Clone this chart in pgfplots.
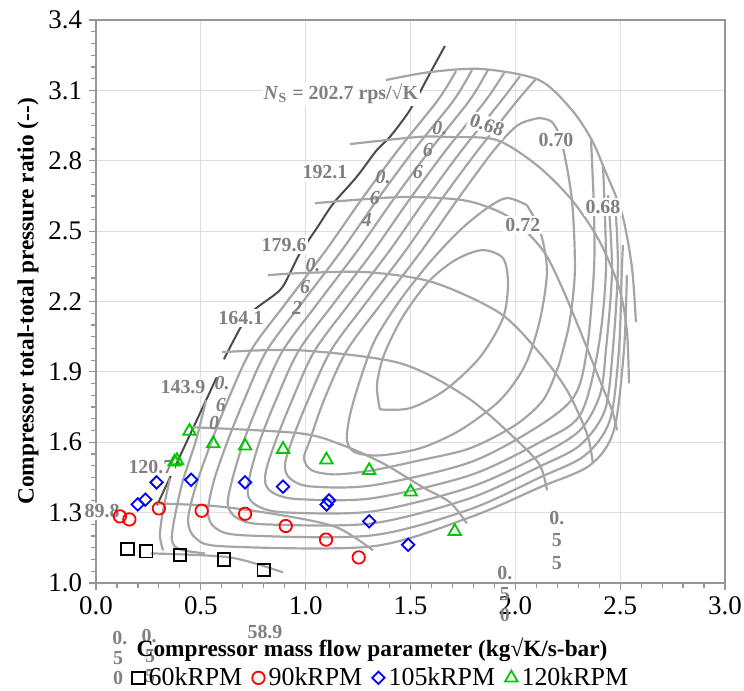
\documentclass[border=0pt]{standalone}
\usepackage{fontspec}
\setmainfont{Liberation Serif}
\usepackage{pgfplots}
\pgfplotsset{compat=1.18}

\definecolor{mapgray}{RGB}{165,165,165}
\definecolor{surgegray}{RGB}{75,75,75}
\definecolor{lblgray}{RGB}{128,128,128}
\definecolor{mkgreen}{RGB}{0,200,0}
\definecolor{gridgray}{RGB}{222,222,222}
\definecolor{framegray}{RGB}{150,150,150}

\pgfplotsset{
  mapline/.style={mapgray, line width=1.1pt, smooth, tension=0.5, no marks, forget plot},
  /pgf/number format/assume math mode=true,
}
\tikzset{
  spd/.style={font=\fontsize{10}{12}\selectfont\bfseries, text=lblgray, fill=white, inner sep=1pt},
  eff/.style={font=\fontsize{10}{12}\selectfont\bfseries\itshape, text=lblgray, inner sep=0pt},
  effu/.style={font=\fontsize{10}{12}\selectfont\bfseries, text=lblgray, inner sep=0pt},
}

\begin{document}
\begin{tikzpicture}
\begin{axis}[
  scale only axis, width=314.5bp, height=281.5bp,
  xmin=0, xmax=3, ymin=1, ymax=3.4,
  xtick={0,0.5,1,1.5,2,2.5,3},
  ytick={1.0,1.3,1.6,1.9,2.2,2.5,2.8,3.1,3.4},
  minor x tick num=4, minor y tick num=5,
  xtick pos=bottom, ytick pos=left,
  tick align=outside, major tick length=3.5bp, minor tick length=2.5bp,
  grid=major, major grid style={gridgray, line width=0.5pt},
  axis line style={framegray, line width=0.9pt},
  tick style={framegray, line width=0.6pt},
  ticklabel style={font=\fontsize{13.5}{15}\selectfont,
    /pgf/number format/fixed, /pgf/number format/fixed zerofill,
    /pgf/number format/precision=1},
  xlabel={\bfseries Compressor mass flow parameter (kg√K/s-bar)},
  ylabel={\bfseries Compressor total-total pressure ratio (-{}-)},
  label style={font=\fontsize{11.7}{14}\selectfont},
  xlabel style={at={(axis description cs:0.439,-0.119)}, anchor=center},
  ylabel style={at={(axis description cs:-0.108,0.5)}, anchor=center},
  clip=false,
  legend style={at={(axis description cs:0.455,-0.135)}, anchor=north,
    draw=none, fill=none, font=\fontsize{13}{15}\selectfont,
    /tikz/every even column/.append style={column sep=3bp}},
  legend columns=4,
  legend image code/.code={\draw[#1] plot coordinates {(0.12cm,0cm)};},
]

% surge line
\addplot[surgegray, line width=1.0pt, smooth, forget plot] coordinates {
  (0.291,1.331) (0.576,1.877)};
\addplot[surgegray, line width=1.0pt, smooth, tension=0.5, forget plot] coordinates {
  (0.610,1.954) (0.701,2.107) (0.758,2.167) (0.877,2.248) (0.925,2.321)
  (0.973,2.406) (1.052,2.511) (1.132,2.618) (1.243,2.731) (1.339,2.845)
  (1.402,2.902) (1.497,3.016) (1.593,3.173) (1.664,3.289)};

% speed lines
\addplot[mapline] coordinates {(0.262,1.126) (0.639,1.109) (0.892,1.045)};
\addplot[mapline] coordinates {(0.291,1.339) (0.577,1.327) (0.892,1.288) (1.149,1.237) (1.321,1.139)};
\addplot[mapline] coordinates {(0.463,1.664) (0.973,1.638) (1.178,1.587) (1.369,1.510) (1.559,1.408) (1.688,1.344) (1.769,1.254)};
\addplot[mapline] coordinates {(0.601,1.984) (0.973,1.992) (1.450,1.937) (1.769,1.792) (2.008,1.608) (2.117,1.502) (2.151,1.395)};
\addplot[mapline] coordinates {(0.820,2.312) (0.973,2.321) (1.292,2.325) (1.607,2.282) (1.927,2.150) (2.117,1.979) (2.246,1.822) (2.341,1.638) (2.370,1.510)};
\addplot[mapline] coordinates {(1.044,2.619) (1.450,2.645) (1.750,2.632) (1.927,2.581) (2.031,2.517) (2.141,2.406) (2.222,2.261) (2.308,2.077) (2.403,1.864) (2.461,1.736) (2.485,1.651)};
\addplot[mapline] coordinates {(1.211,2.871) (1.531,2.901) (1.688,2.901) (1.912,2.888) (2.108,2.777) (2.270,2.632) (2.399,2.461) (2.494,2.261) (2.532,2.077) (2.542,1.851)};
\addplot[mapline] coordinates {(1.383,3.144) (1.593,3.178) (1.841,3.191) (2.113,3.144) (2.270,3.016) (2.365,2.888) (2.427,2.760) (2.508,2.577) (2.556,2.346) (2.575,2.112)};

% efficiency contours
\addplot[mapline] coordinates {(1.354,1.740) (1.497,1.745) (1.664,1.822) (1.831,1.962) (1.941,2.129) (1.965,2.278) (1.941,2.385) (1.841,2.419) (1.712,2.376) (1.583,2.282) (1.459,2.129) (1.373,1.971) (1.340,1.843) (1.354,1.740)};
\addplot[mapline] coordinates {(2.055,2.611) (1.960,2.641) (1.865,2.598) (1.736,2.504) (1.593,2.368) (1.450,2.205) (1.330,2.035) (1.259,1.864) (1.211,1.715) (1.197,1.608) (1.235,1.557) (1.354,1.544) (1.545,1.574) (1.736,1.651) (1.927,1.779) (2.046,1.928) (2.117,2.120) (2.151,2.333) (2.117,2.504) (2.055,2.611)};
\addplot[mapline] coordinates {(2.113,2.982) (2.012,2.952) (1.898,2.845) (1.722,2.632) (1.555,2.419) (1.373,2.205) (1.197,1.992) (1.087,1.779) (1.020,1.608) (0.992,1.531) (1.030,1.480) (1.140,1.463) (1.316,1.480) (1.545,1.523) (1.783,1.574) (1.998,1.672) (2.132,1.779) (2.198,1.907) (2.227,1.992) (2.260,2.120) (2.284,2.333) (2.270,2.632) (2.222,2.875) (2.175,2.965) (2.113,2.982)};
\addplot[mapline] coordinates {(2.098,3.148) (2.012,3.059) (1.822,2.845) (1.645,2.632) (1.478,2.419) (1.297,2.205) (1.121,1.992) (1.011,1.779) (0.935,1.608) (0.901,1.502) (0.925,1.446) (1.020,1.412) (1.316,1.416) (1.783,1.514) (2.117,1.672) (2.284,1.800) (2.341,1.992) (2.375,2.333) (2.375,2.589) (2.361,2.888)};
\addplot[mapline] coordinates {(2.022,3.161) (1.936,3.059) (1.745,2.845) (1.569,2.632) (1.402,2.419) (1.221,2.205) (1.044,1.992) (0.935,1.779) (0.858,1.608) (0.811,1.480) (0.811,1.416) (0.858,1.378) (0.973,1.357) (1.316,1.361) (1.783,1.459) (2.117,1.600) (2.308,1.715) (2.394,1.992) (2.432,2.333) (2.418,2.781)};
\addplot[mapline] coordinates {(1.946,3.174) (1.860,3.059) (1.669,2.845) (1.493,2.632) (1.326,2.419) (1.145,2.205) (0.968,1.992) (0.858,1.779) (0.782,1.608) (0.734,1.459) (0.725,1.374) (0.773,1.327) (0.901,1.301) (1.316,1.305) (1.783,1.408) (2.117,1.544) (2.308,1.651) (2.403,1.800) (2.432,1.992) (2.461,2.333) (2.442,2.653)};
\addplot[mapline] coordinates {(1.869,3.187) (1.783,3.059) (1.593,2.845) (1.416,2.632) (1.249,2.419) (1.068,2.205) (0.892,1.992) (0.782,1.779) (0.706,1.608) (0.649,1.438) (0.629,1.331) (0.677,1.275) (0.806,1.250) (1.316,1.254) (1.783,1.361) (2.117,1.497) (2.308,1.587) (2.427,1.736) (2.465,1.992) (2.489,2.333) (2.480,2.568)};
\addplot[mapline] coordinates {(1.793,3.187) (1.707,3.059) (1.516,2.845) (1.340,2.632) (1.173,2.419) (0.992,2.205) (0.815,1.992) (0.706,1.779) (0.629,1.608) (0.563,1.438) (0.534,1.301) (0.572,1.233) (0.711,1.203) (1.316,1.203) (1.783,1.314) (2.117,1.450) (2.332,1.544) (2.451,1.694) (2.494,1.992) (2.508,2.333) (2.513,2.440)};
\addplot[mapline] coordinates {(1.717,3.182) (1.631,3.059) (1.440,2.845) (1.264,2.632) (1.097,2.419) (0.916,2.205) (0.739,1.992) (0.629,1.779) (0.553,1.608) (0.477,1.416) (0.439,1.267) (0.477,1.190) (0.615,1.156) (1.316,1.156) (1.783,1.280) (2.117,1.408) (2.356,1.502) (2.470,1.651) (2.518,1.992) (2.532,2.312)};
\addplot[mapline] coordinates {(0.525,1.779) (0.477,1.608) (0.415,1.438) (0.377,1.288) (0.362,1.182) (0.401,1.143) (0.520,1.126)};
\addplot[mapline] coordinates {(0.353,1.446) (0.320,1.310) (0.305,1.203) (0.320,1.139)};

% speed labels
\node[spd] at (1.168,3.084) {\textit{N}\textsubscript{S} = 202.7 rps/√K};
\node[spd] at (1.092,2.752) {192.1};
\node[spd] at (0.897,2.440) {179.6};
\node[spd] at (0.691,2.129) {164.1};
\node[spd] at (0.415,1.834) {143.9};
\node[spd] at (0.262,1.493) {120.7};
\node[spd] at (0.029,1.305) {89.8};
\node[spd] at (0.806,0.789) {58.9};

% efficiency labels
\node[spd, rotate=-20] at (1.865,2.952) {0.68};
\node[spd] at (2.194,2.888) {0.70};
\node[spd] at (2.036,2.525) {0.72};
\node[spd] at (2.418,2.602) {0.68};
\node[eff] at (1.640,2.939) {0.}; \node[eff] at (1.583,2.845) {6}; \node[eff] at (1.535,2.752) {6};
\node[eff] at (1.369,2.730) {0.}; \node[eff] at (1.330,2.641) {6}; \node[eff] at (1.292,2.547) {4};
\node[eff] at (1.035,2.355) {0.}; \node[eff] at (0.997,2.261) {6}; \node[eff] at (0.959,2.171) {2};
\node[eff] at (0.601,1.851) {0.}; \node[eff] at (0.596,1.757) {6}; \node[eff] at (0.563,1.681) {0};
\node[effu] at (2.198,1.275) {0.}; \node[effu] at (2.198,1.182) {5}; \node[effu] at (2.198,1.083) {5};
\node[effu] at (1.950,1.041) {0.}; \node[effu] at (1.950,0.951) {5}; \node[effu] at (1.950,0.862) {0};
\node[effu] at (0.114,0.765) {0.}; \node[effu] at (0.105,0.680) {5}; \node[effu] at (0.105,0.595) {0};
\node[effu] at (0.253,0.775) {0.}; \node[effu] at (0.258,0.690) {5}; \node[effu] at (0.258,0.605) {5};

% measured points
\addplot[only marks, mark=square, mark size=3.1bp, line width=0.9pt, black] coordinates {
  (0.15,1.145) (0.24,1.135) (0.40,1.120) (0.61,1.100) (0.80,1.055)};
\addplot[only marks, mark=o, mark size=3.1bp, line width=0.9pt, red] coordinates {
  (0.114,1.284) (0.159,1.271) (0.300,1.318) (0.504,1.308) (0.711,1.295)
  (0.905,1.243) (1.097,1.185) (1.253,1.109)};
\addplot[only marks, mark=square, mark options={rotate=45}, mark size=2.2bp, line width=0.9pt, blue] coordinates {
  (0.199,1.335) (0.235,1.355) (0.289,1.429) (0.454,1.440) (0.711,1.429)
  (0.892,1.411) (1.100,1.335) (1.111,1.352) (1.303,1.263) (1.489,1.163)};
\addplot[only marks, mark=triangle, mark size=3.6bp, line width=0.9pt, mkgreen] coordinates {
  (0.375,1.516) (0.386,1.522) (0.446,1.647) (0.559,1.594) (0.711,1.584) (0.892,1.570)
  (1.099,1.525) (1.303,1.480) (1.501,1.388) (1.711,1.220)};
\legend{60kRPM, 90kRPM, 105kRPM, 120kRPM}
\end{axis}
\pgfresetboundingbox
\path[use as bounding box] (current axis.south west) ++(-48bp,-54bp) rectangle ++(372bp,345.5bp);
\end{tikzpicture}
\end{document}
